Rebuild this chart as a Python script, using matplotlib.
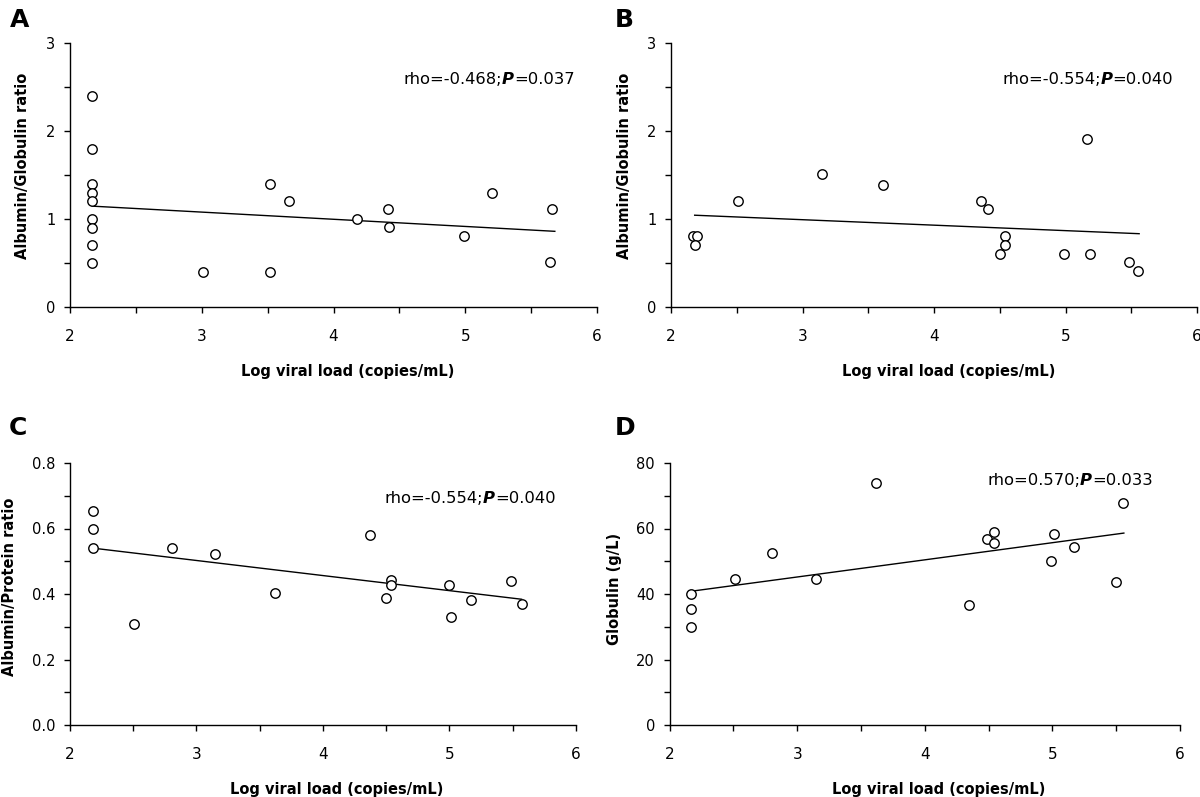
import matplotlib.pyplot as plt
from matplotlib.offsetbox import AnnotationBbox, HPacker, TextArea
from matplotlib.ticker import FormatStrFormatter, MultipleLocator

plt.rcParams['font.family'] = ['DejaVu Sans']

W, H = 1200, 797

# Panel A : albumin/globulin ratio vs log viral load
a_x = [2.17, 2.17, 2.17, 2.17, 2.17, 2.17, 2.17, 2.17, 2.17,
       3.01, 3.52, 3.52, 3.66, 4.18, 4.41, 4.42, 4.99, 5.20, 5.66, 5.64]
a_y = [2.40, 1.80, 1.40, 1.30, 1.20, 1.00, 0.90, 0.70, 0.50,
       0.40, 0.40, 1.40, 1.21, 1.00, 1.11, 0.91, 0.81, 1.29, 1.11, 0.51]
a_fit_x = [2.17, 5.68]
a_fit_y = [1.146, 0.86]

# Panel B
b_x = [2.17, 2.20, 2.18, 2.51, 3.15, 3.61, 4.36, 4.41, 4.54, 4.54,
       4.50, 4.99, 5.19, 5.16, 5.48, 5.55]
b_y = [0.81, 0.81, 0.71, 1.21, 1.51, 1.39, 1.21, 1.11, 0.81, 0.71,
       0.60, 0.60, 0.60, 1.91, 0.51, 0.41]
b_fit_x = [2.18, 5.56]
b_fit_y = [1.043, 0.833]

# Panel C : albumin/protein ratio
c_x = [2.185, 2.185, 2.185, 2.51, 2.81, 3.15, 3.62, 4.37, 4.50, 4.54,
       4.54, 5.00, 5.01, 5.17, 5.49, 5.57]
c_y = [0.652, 0.599, 0.539, 0.309, 0.539, 0.522, 0.402, 0.579, 0.388, 0.442,
       0.428, 0.428, 0.329, 0.383, 0.441, 0.369]
c_fit_x = [2.185, 5.57]
c_fit_y = [0.540, 0.384]

# Panel D : globulin (g/L)
d_x = [2.17, 2.17, 2.17, 2.51, 2.80, 3.15, 3.62, 4.35, 4.49, 4.54,
       4.54, 5.01, 4.99, 5.17, 5.50, 5.55]
d_y = [39.9, 35.5, 29.8, 44.5, 52.6, 44.5, 73.8, 36.6, 56.8, 58.9,
       55.6, 58.3, 50.2, 54.5, 43.8, 67.9]
d_fit_x = [2.18, 5.56]
d_fit_y = [40.9, 58.6]

x_label = "Log viral load (copies/mL)"

fig = plt.figure(figsize=(W / 100, H / 100), dpi=100)


def panel(box, letter, letter_xy, xs, ys, fx, fy, ylim, ymaj, ymin, yfmt,
          ylabel, ylab_x, ylab_y, rho, pval, txt_xy):
    l, t, r, b = box
    ax = fig.add_axes([l / W, 1 - b / H, (r - l) / W, (b - t) / H])
    wpx, hpx = r - l, b - t
    ax.plot(xs, ys, 'o', mfc='white', mec='black', ms=6.8, mew=1.0,
            clip_on=False, zorder=3)
    ax.plot(fx, fy, color='black', lw=1.0, zorder=2)
    ax.set_xlim(2, 6)
    ax.set_ylim(*ylim)
    ax.xaxis.set_major_locator(MultipleLocator(1))
    ax.xaxis.set_minor_locator(MultipleLocator(0.5))
    ax.yaxis.set_major_locator(MultipleLocator(ymaj))
    ax.yaxis.set_minor_locator(MultipleLocator(ymin))
    ax.yaxis.set_major_formatter(FormatStrFormatter(yfmt))
    for s in ['top', 'right']:
        ax.spines[s].set_visible(False)
    for s in ['left', 'bottom']:
        ax.spines[s].set_linewidth(1.0)
    ax.tick_params(axis='both', which='both', direction='out', length=4.5,
                   width=1.0)
    ax.tick_params(axis='x', which='major', labelsize=11, pad=11)
    ax.tick_params(axis='y', which='major', labelsize=10.5, pad=6)
    ax.set_xlabel(x_label, fontsize=10.5, fontweight='bold')
    ax.xaxis.set_label_coords(0.527, -57 / hpx)
    ax.set_ylabel(ylabel, fontsize=10.5, fontweight='bold', va='center')
    ax.yaxis.set_label_coords(-(l - ylab_x) / wpx, (b - ylab_y) / hpx)
    fig.text(letter_xy[0] / W, 1 - letter_xy[1] / H, letter, fontsize=18,
             fontweight='bold', va='baseline', ha='left')
    parts = [TextArea("rho=" + rho + ";", textprops=dict(fontsize=11.8)),
             TextArea("P", textprops=dict(fontsize=11.8, fontweight='bold',
                                          fontstyle='italic')),
             TextArea("=" + pval, textprops=dict(fontsize=11.8))]
    pack = HPacker(children=parts, align='baseline', pad=0, sep=0)
    ab = AnnotationBbox(pack, txt_xy, xycoords='data', box_alignment=(1, 0.5),
                        frameon=False, pad=0)
    ax.add_artist(ab)
    return ax


panel((70, 43, 597, 307), 'A', (10, 27.3), a_x, a_y, a_fit_x, a_fit_y,
      (0, 3), 1, 0.5, '%d', "Albumin/Globulin ratio", 23, 166,
      "-0.468", "0.037", (5.83, 2.58))
panel((671, 43, 1197, 307), 'B', (615, 27.3), b_x, b_y, b_fit_x, b_fit_y,
      (0, 3), 1, 0.5, '%d', "Albumin/Globulin ratio", 624, 166,
      "-0.554", "0.040", (5.82, 2.58))
panel((69.6, 463, 576, 725), 'C', (8.5, 435), c_x, c_y, c_fit_x, c_fit_y,
      (0, 0.8), 0.2, 0.1, '%.1f', "Albumin/Protein ratio", 10, 587,
      "-0.554", "0.040", (5.84, 0.691))
panel((669.6, 463, 1180, 725), 'D', (614.6, 435), d_x, d_y, d_fit_x, d_fit_y,
      (0, 80), 20, 10, '%d', "Globulin (g/L)", 614, 589,
      "0.570", "0.033", (5.786, 74.8))

plt.savefig("out.png", dpi=100)
